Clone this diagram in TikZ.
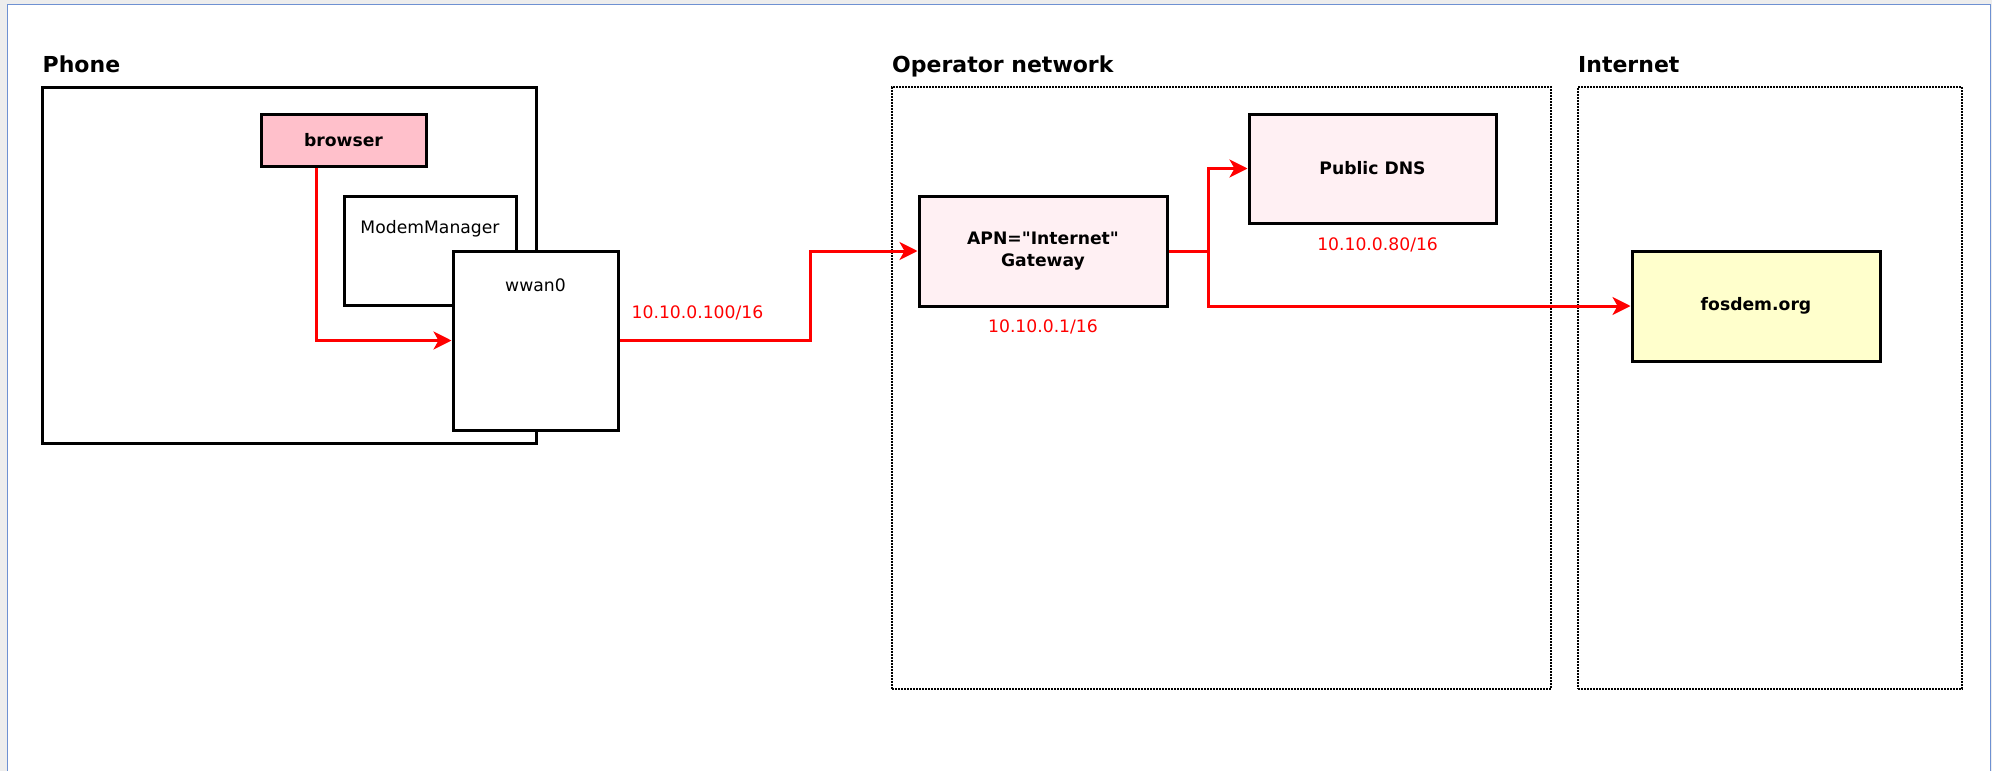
\documentclass[tikz,border=0pt]{standalone}
\usepackage{fontspec}
\setmainfont{DejaVu Sans}
\usetikzlibrary{arrows.meta}
\definecolor{bggray}{HTML}{EDEDED}
\definecolor{frameblue}{HTML}{6E91D2}
\definecolor{browserpink}{HTML}{FFC0CB}
\definecolor{lightpink}{HTML}{FFF0F3}
\definecolor{lightyellow}{HTML}{FFFFCC}
\tikzset{
  box/.style={draw=black, line width=3pt, inner sep=0pt, fill=white},
  grp/.style={draw=black, line width=2.4pt, dash pattern=on 1.6pt off 1.4pt, inner sep=0pt},
  head/.style={font=\fontsize{22}{26}\selectfont\bfseries, anchor=base west, inner sep=0pt},
  btxt/.style={font=\fontsize{17.2}{22}\selectfont\bfseries, align=center},
  ntxt/.style={font=\fontsize{17.2}{22}\selectfont, inner sep=0pt},
  ip/.style={font=\fontsize{17.2}{22}\selectfont, text=red, inner sep=0pt},
  flowline/.style={draw=red, line width=3pt},
  flow/.style={flowline, -{Stealth[length=18pt, width=18pt, inset=5pt]}},
}
\begin{document}
\begin{tikzpicture}[x=1pt, y=-1pt]
\useasboundingbox (0,0) rectangle (1992,771);
\fill[bggray] (0,0) rectangle (1992,771);
\fill[white] (7.5,4.5) rectangle (1990.5,771);
\draw[frameblue, line width=1.8pt] (7.5,771) -- (7.5,4.5) -- (1990.5,4.5) -- (1990.5,771);

% Phone
\node[head] (phonelbl) at (42.5,72) {Phone};
\node[box, minimum width=494pt, minimum height=356pt] (phone) at (289,265) {};
\node[box, fill=browserpink, minimum width=165pt, minimum height=52pt, btxt] (browser) at (343.5,140) {browser};
\node[box, minimum width=172pt, minimum height=109pt] (mm) at (430,250.5) {};
\node[ntxt] (mmlbl) at (430,229) {ModemManager};
\node[box, minimum width=165pt, minimum height=179pt] (wwan) at (535.5,340.5) {};
\node[ntxt] (wwanlbl) at (535.5,285) {wwan0};

% Operator network
\node[head] (oplbl) at (892,72.7) {Operator network};
\node[grp, minimum width=659pt, minimum height=602pt] (op) at (1221.5,388) {};
\node[box, fill=lightpink, minimum width=248pt, minimum height=110pt, btxt] (gw) at (1043,251) {APN=\textquotedbl Internet\textquotedbl\\Gateway};
\node[ip] (gwip) at (1043,327) {10.10.0.1/16};
\node[box, fill=lightpink, minimum width=247pt, minimum height=109pt, btxt] (dns) at (1372.5,168.5) {Public DNS};
\node[ip] (dnsip) at (1377.6,245) {10.10.0.80/16};

% Internet
\node[head] (inetlbl) at (1578,72.7) {Internet};
\node[grp, minimum width=384pt, minimum height=602pt] (inet) at (1770,388) {};
\node[box, fill=lightyellow, minimum width=248pt, minimum height=110pt, btxt] (fosdem) at (1756,306) {fosdem.org};

% connectors
\node[ip] (wwanip) at (697.5,313) {10.10.0.100/16};
\coordinate (bend1) at (810,340.5);
\coordinate (split) at (1208,251);
\draw[flow] ([xshift=-27.5pt]browser.south) |- (wwan.west);
\draw[flow] (wwan.east) -- (bend1) |- (gw.west);
\draw[flowline] (gw.east) -- (split);
\draw[flow] (split) |- (dns.west);
\draw[flow] (split) |- (fosdem.west);
\end{tikzpicture}
\end{document}
